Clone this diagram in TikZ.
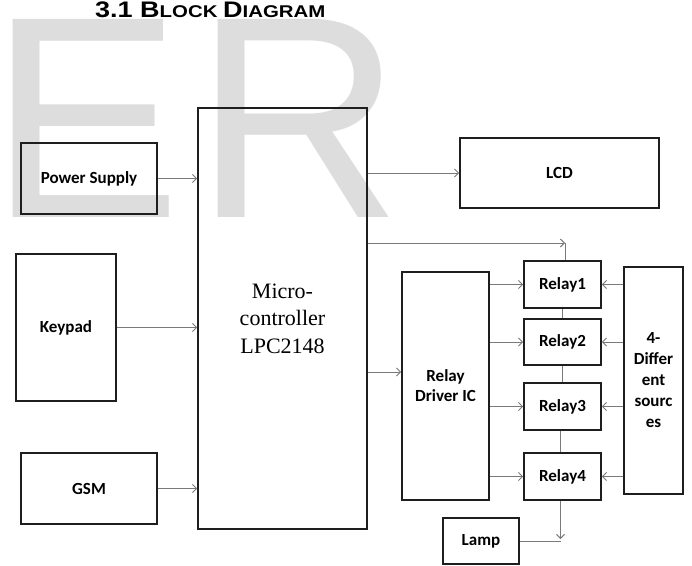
\documentclass[tikz,border=0pt]{standalone}
\usepackage{fontspec}
\setmainfont{Liberation Sans}
\newfontfamily\serifA{Liberation Serif}
\newfontfamily\labfont{Carlito}
\usetikzlibrary{arrows.meta}
\definecolor{boxc}{HTML}{1E1E1E}
\definecolor{linec}{HTML}{7A7A7A}
\definecolor{wm}{HTML}{DDDDDD}
\tikzset{
  blk/.style={draw=boxc, line width=1.8pt, inner sep=0pt, font=\labfont\bfseries\fontsize{17}{20}\selectfont, align=center},
  conn/.style={draw=linec, line width=1pt},
  arr/.style={conn, -{Straight Barb[length=4pt,width=8pt,line width=0.9pt]}},
  wmark/.style={text=wm, inner sep=0pt, anchor=base west, font=\fontsize{288}{288}\selectfont}
}
\begin{document}
\begin{tikzpicture}[x=1pt,y=-1pt]
\useasboundingbox (0,0) rectangle (692,565);
% watermark
\node[wmark] (wmE) at (-11,217) {E};
\node[wmark] (wmR) at (194,217) {R};
% title
\node[anchor=base west, inner sep=0pt, font=\bfseries] (title) at (95,17)
  {\scalebox{1.2}[1]{\fontsize{22.5}{24}\selectfont 3.1 B\fontsize{17}{20}\selectfont LOCK \fontsize{22.5}{24}\selectfont D\fontsize{17}{20}\selectfont IAGRAM}};
% boxes
\node[blk, minimum width=136pt, minimum height=71pt] (ps) at (89,178.5) {Power Supply};
\node[blk, minimum width=100pt, minimum height=147pt] (kp) at (66,327.5) {Keypad};
\node[blk, minimum width=136pt, minimum height=71pt] (gsm) at (89,488.5) {GSM};
\node[blk, minimum width=169pt, minimum height=421pt, font=\serifA\fontsize{22}{27.5}\selectfont] (mc) at (282.5,318.5) {Micro-\\controller\\LPC2148};
\node[blk, minimum width=199pt, minimum height=70pt] (lcd) at (559.5,173) {LCD};
\node[blk, minimum width=87pt, minimum height=228pt] (drv) at (445.5,386) {Relay\\Driver IC};
\node[blk, minimum width=77pt, minimum height=47pt] (r1) at (562.5,284.5) {Relay1};
\node[blk, minimum width=77pt, minimum height=46pt] (r2) at (562.5,342) {Relay2};
\node[blk, minimum width=77pt, minimum height=47pt] (r3) at (562.5,406.5) {Relay3};
\node[blk, minimum width=77pt, minimum height=47pt] (r4) at (562.5,476.5) {Relay4};
\node[blk, minimum width=59pt, minimum height=227pt, font=\labfont\bfseries\fontsize{17}{21}\selectfont] (src) at (653.5,380.5) {4-\\Differ\\ent\\sourc\\es};
\node[blk, minimum width=76pt, minimum height=46pt] (lamp) at (481,541) {Lamp};
% connectors
\draw[arr] (ps.east) -- (ps.east -| mc.west);
\draw[arr] (kp.east) -- (kp.east -| mc.west);
\draw[arr] (gsm.east) -- (gsm.east -| mc.west);
\draw[arr] (lcd.west -| mc.east) -- (lcd.west);
\coordinate (c1) at (565,243);
\draw[arr] (mc.east |- c1) -- (c1);
\draw[conn] (c1) -- (c1 |- r1.north);
\coordinate (c3) at ([yshift=14pt]drv.west);
\draw[arr] (c3 -| mc.east) -- (c3);
\foreach \r in {r1,r2,r3,r4}{
  \draw[arr] (drv.east |- \r.west) -- (\r.west);
  \draw[arr] (src.west |- \r.east) -- (\r.east);
}
\draw[conn] (r1.south) -- (r2.north);
\draw[conn] (r2.south) -- (r3.north);
\draw[conn] ([xshift=-2pt]r3.south) -- ([xshift=-2pt]r4.north);
\coordinate (c2) at ([xshift=-2pt]r4.south |- lamp.east);
\draw[arr] ([xshift=-2pt]r4.south) -- ([yshift=2pt]c2);
\draw[conn] (lamp.east) -- (c2);
\end{tikzpicture}
\end{document}
